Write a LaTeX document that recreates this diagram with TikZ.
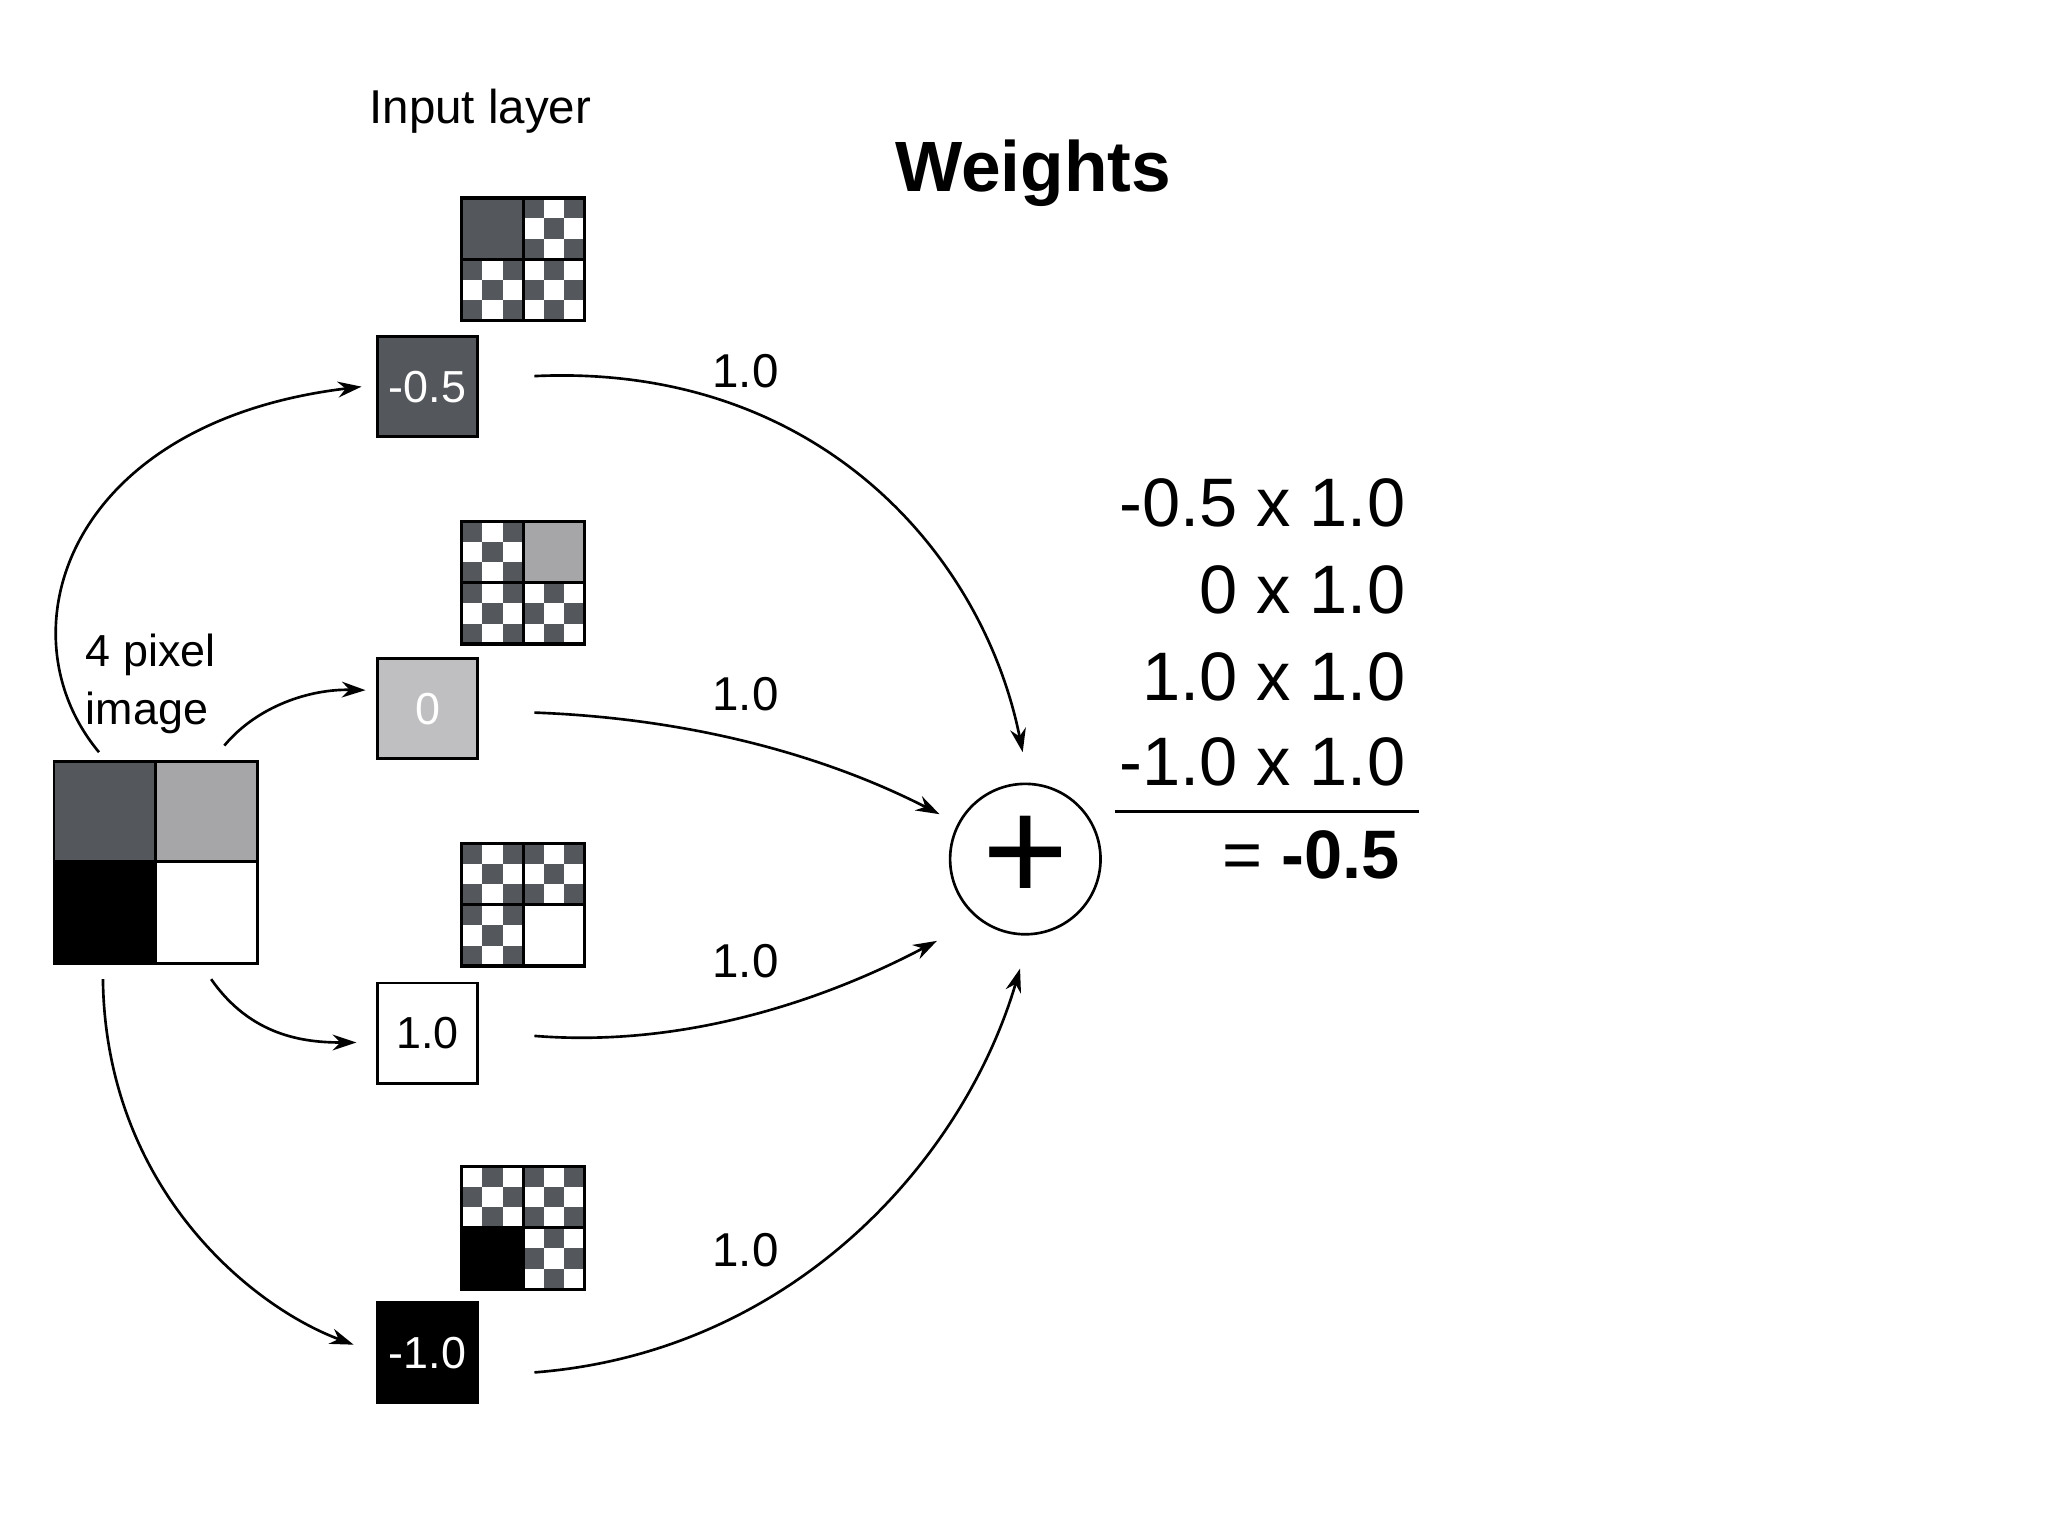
\documentclass[tikz,border=0pt]{standalone}
\usepackage{fontspec}
\setmainfont{Liberation Sans}
\usetikzlibrary{arrows.meta}
\definecolor{dk}{HTML}{54575C}
\definecolor{lg}{HTML}{BFBFC1}
\definecolor{mg}{HTML}{A6A6A8}
\newcommand\ckD[2]{\foreach \a/\b in {0/0,2/0,1/1,0/2,2/2}{\fill[dk] (#1+\a*15.5,#2+\b*15.5) rectangle ++(15.5,15.5);}}
\newcommand\ckW[2]{\foreach \a/\b in {1/0,0/1,2/1,1/2}{\fill[dk] (#1+\a*15.5,#2+\b*15.5) rectangle ++(15.5,15.5);}}
\newcommand\ckS[3]{\fill[#3] (#1,#2) rectangle ++(46.5,46.5);}
\newcommand\ckGrid[2]{\draw[line width=1.2pt] (#1,#2) rectangle ++(93,93); \draw[line width=1.2pt] (#1+46.5,#2) -- ++(0,93) (#1,#2+46.5) -- ++(93,0);}
\tikzset{arr/.style={line width=1pt,-{Stealth[length=9pt,width=6pt]}},
 val/.style={font=\fontsize{17}{20}\selectfont},
 eq/.style={anchor=base east,font=\fontsize{26}{30}\selectfont},
 wt/.style={font=\fontsize{18}{20}\selectfont}}
\begin{document}
\begin{tikzpicture}[x=0.5pt,y=-0.5pt]
\useasboundingbox (0,0) rectangle (1552,1164);
\node[font=\fontsize{18}{20}\selectfont] (il) at (364,84) {Input layer};
\node[font=\fontsize{27}{30}\selectfont\bfseries] (w) at (783,131) {Weights};
% checkers
\ckS{350}{150}{dk}\ckD{396.5}{150}\ckD{350}{196.5}\ckW{396.5}{196.5}\ckGrid{350}{150}
\ckD{350}{395}\ckS{396.5}{395}{mg}\ckD{350}{441.5}\ckW{396.5}{441.5}\ckGrid{350}{395}
\ckD{350}{639}\ckD{396.5}{639}\ckD{350}{685.5}\ckGrid{350}{639}
\ckW{350}{884}\ckD{396.5}{884}\ckS{350}{930.5}{black}\ckW{396.5}{930.5}\ckGrid{350}{884}
% value boxes
\draw[fill=dk,line width=1pt] (286,255) rectangle (362,331);
\node[val,text=white] (v1) at (324,293) {-0.5};
\draw[fill=lg,line width=1pt] (286,499) rectangle (362,575);
\node[val,text=white] (v2) at (324,537) {0};
\draw[fill=white,line width=1pt] (286,745) rectangle (362,821);
\node[val] (v3) at (324,783) {1.0};
\draw[fill=black,line width=1pt] (286,987) rectangle (362,1063);
\node[val,text=white] (v4) at (324,1025) {-1.0};
% image
\fill[dk] (41,577) rectangle (118,653);
\fill[mg] (118,577) rectangle (195,653);
\fill[black] (41,653) rectangle (118,730);
\draw[line width=1pt] (41,577) rectangle (195,730);
\draw[line width=1pt] (118,577) -- (118,730) (41,653) -- (195,653);
\node[anchor=west,align=left,font=\fontsize{17}{22}\selectfont] (lab) at (58,518) {4 pixel\\image};
% plus
\draw[line width=1pt] (777,651) circle (57);
\node[font=\fontsize{56}{56}\selectfont] (plus) at (777,651) {+};
% weights
\node[wt] (w1) at (565,281) {1.0};
\node[wt] (w2) at (565,526) {1.0};
\node[wt] (w3) at (565,728) {1.0};
\node[wt] (w4) at (565,947) {1.0};
% arrows
\coordinate (a1) at (405,285); \coordinate (b1) at (775,570);
\coordinate (a2) at (405,540); \coordinate (b2) at (712,617);
\coordinate (a3) at (405,785); \coordinate (b3) at (710,713);
\coordinate (a4) at (405,1040); \coordinate (b4) at (773,734);
\draw[arr] (a1) .. controls (620,275) and (745,420) .. (b1);
\draw[arr] (a2) .. controls (540,545) and (640,580) .. (b2);
\draw[arr] (a3) .. controls (530,795) and (640,750) .. (b3);
\draw[arr] (a4) .. controls (600,1025) and (730,880) .. (b4);
\coordinate (i1) at (75,570); \coordinate (t1) at (274,293);
\coordinate (i2) at (170,565); \coordinate (t2) at (277,523);
\coordinate (i3) at (160,742); \coordinate (t3) at (270,790);
\coordinate (i4) at (78,742); \coordinate (t4) at (268,1019);
\draw[arr] (i1) .. controls (0,480) and (50,320) .. (t1);
\draw[arr] (i2) .. controls (195,535) and (235,522) .. (t2);
\draw[arr] (i3) .. controls (190,785) and (230,790) .. (t3);
\draw[arr] (i4) .. controls (80,900) and (190,990) .. (t4);
% equation
\node[eq] (e1) at (1072,399) {-0.5 x 1.0};
\node[eq] (e2) at (1072,465) {0 x 1.0};
\node[eq] (e3) at (1072,531) {1.0 x 1.0};
\node[eq] (e4) at (1072,595) {-1.0 x 1.0};
\coordinate (l1) at (845,615); \coordinate (l2) at (1075,615);
\draw[line width=1.2pt] (l1) -- (l2);
\node[eq] (e5) at (1068,666) {= \textbf{-0.5}};
\end{tikzpicture}
\end{document}
